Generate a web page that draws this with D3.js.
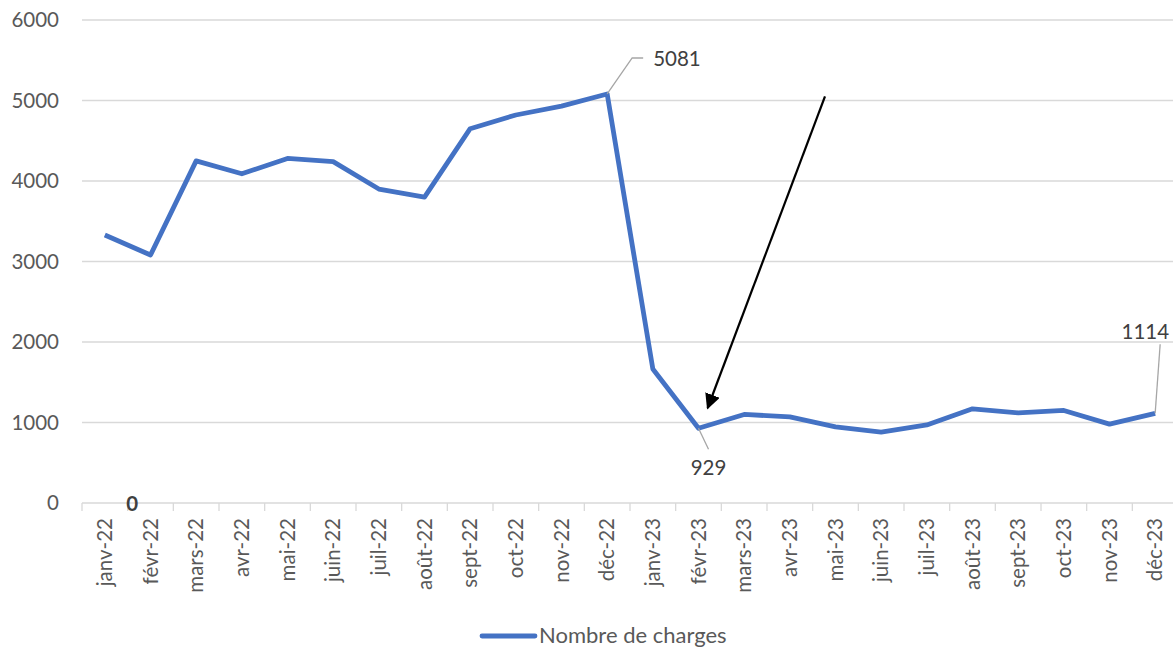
<!DOCTYPE html>
<html>
<head>
<meta charset="utf-8">
<script src="https://cdn.jsdelivr.net/npm/d3@7"></script>
<style>
  body { margin: 0; background: #fff; }
  svg text { font-family: Lato, "Open Sans", sans-serif; }
</style>
</head>
<body>
<svg id="chart" width="1173" height="651"></svg>
<script>
const months = ['janv-22','févr-22','mars-22','avr-22','mai-22','juin-22','juil-22','août-22',
  'sept-22','oct-22','nov-22','déc-22','janv-23','févr-23','mars-23','avr-23','mai-23','juin-23',
  'juil-23','août-23','sept-23','oct-23','nov-23','déc-23'];
const charges = [3330, 3080, 4250, 4090, 4280, 4240, 3900, 3800, 4650, 4820, 4930, 5081,
  1665, 929, 1100, 1070, 945, 880, 970, 1170, 1120, 1150, 980, 1114];
const yTicks = [0, 1000, 2000, 3000, 4000, 5000, 6000];
const seriesName = 'Nombre de charges';
// labelled points
const labelled = [11, 13, 23];

const svg = d3.select('#chart');
const mLeft = 82, mRight = 1178, mTop = 20, mBottom = 503;
const fs = 20.5;

const x = d3.scaleBand().domain(months).range([mLeft, mRight]);
const cx = d => x(d) + x.bandwidth() / 2;
const y = d3.scaleLinear().domain([0, 6000]).range([mBottom, mTop]);

// gridlines
svg.append('g')
  .selectAll('line')
  .data(yTicks)
  .join('line')
  .attr('x1', mLeft).attr('x2', mRight)
  .attr('y1', d => y(d)).attr('y2', d => y(d))
  .attr('stroke', '#d9d9d9').attr('stroke-width', 1.3);

// y labels
svg.append('g')
  .selectAll('text')
  .data(yTicks)
  .join('text')
  .attr('x', 59).attr('y', d => y(d) + 7)
  .attr('text-anchor', 'end')
  .attr('font-size', fs)
  .attr('fill', '#595959')
  .text(d => d);

// x axis
const xAxis = svg.append('g')
  .attr('transform', 'translate(0,' + mBottom + ')')
  .call(d3.axisBottom(x).tickSize(0).tickPadding(0));
xAxis.select('.domain').remove();
xAxis.selectAll('.tick line').remove();
xAxis.selectAll('.tick text')
  .attr('transform', 'rotate(-90)')
  .attr('x', -15).attr('y', 0).attr('dy', '0.35em')
  .attr('text-anchor', 'end')
  .attr('font-size', fs)
  .attr('fill', '#595959')
  .style('font-family', 'Lato, "Open Sans", sans-serif');

svg.append('g')
  .selectAll('line')
  .data(months.concat(['__end']))
  .join('line')
  .attr('x1', (d, i) => mLeft + i * x.bandwidth())
  .attr('x2', (d, i) => mLeft + i * x.bandwidth())
  .attr('y1', mBottom).attr('y2', mBottom + 8)
  .attr('stroke', '#d9d9d9').attr('stroke-width', 1.3);

// stray zero label
svg.append('text')
  .attr('x', mLeft + x.bandwidth() * 1.1).attr('y', y(0) + 8)
  .attr('text-anchor', 'middle')
  .attr('font-size', fs).attr('font-weight', 'bold')
  .attr('fill', '#404040')
  .text('0');

// line
const line = d3.line()
  .x((d, i) => cx(months[i]))
  .y(d => y(d));
svg.append('path')
  .datum(charges)
  .attr('d', line)
  .attr('fill', 'none')
  .attr('stroke', '#4472C4')
  .attr('stroke-width', 4.8)
  .attr('stroke-linejoin', 'round');

// data labels with leader lines
const lab = svg.append('g');
const leader = (pts) => lab.append('path')
  .attr('d', d3.line()(pts))
  .attr('fill', 'none').attr('stroke', '#a6a6a6').attr('stroke-width', 1.3);

{
  const i = labelled[0], px = cx(months[i]), py = y(charges[i]);
  leader([[px, py], [px + 25, py - 36], [px + 36, py - 36]]);
  lab.append('text').attr('x', px + 46).attr('y', py - 28)
    .attr('font-size', fs).attr('fill', '#404040').text(charges[i]);
}
{
  const i = labelled[1], px = cx(months[i]), py = y(charges[i]);
  leader([[px, py], [px + 10, py + 21]]);
  lab.append('text').attr('x', px + 10).attr('y', py + 47)
    .attr('text-anchor', 'middle')
    .attr('font-size', fs).attr('fill', '#404040').text(charges[i]);
}
{
  const i = labelled[2], px = cx(months[i]), py = y(charges[i]);
  leader([[px, py], [px + 5, py - 69]]);
  lab.append('text').attr('x', px + 14).attr('y', py - 74)
    .attr('text-anchor', 'end')
    .attr('font-size', fs).attr('fill', '#404040').text(charges[i]);
}

// arrow annotation (in data space)
const arrowFrom = { i: 15.77, v: 5050 };
const arrowTo = { i: 13.2, v: 1180 };
const ax = i => mLeft + (i + 0.5) * x.bandwidth();
svg.append('defs').append('marker')
  .attr('id', 'ah').attr('viewBox', '0 0 10 10')
  .attr('refX', 9).attr('refY', 5)
  .attr('markerWidth', 7).attr('markerHeight', 7)
  .attr('markerUnits', 'strokeWidth')
  .attr('orient', 'auto')
  .append('path').attr('d', 'M0,0 L10,5 L0,10 Z').attr('fill', '#000');
svg.append('line')
  .attr('x1', ax(arrowFrom.i)).attr('y1', y(arrowFrom.v))
  .attr('x2', ax(arrowTo.i)).attr('y2', y(arrowTo.v))
  .attr('stroke', '#000').attr('stroke-width', 2.2)
  .attr('marker-end', 'url(#ah)');

// legend
const lg = svg.append('g');
lg.append('line')
  .attr('x1', 482).attr('x2', 535).attr('y1', 636).attr('y2', 636)
  .attr('stroke', '#4472C4').attr('stroke-width', 4.8).attr('stroke-linecap', 'round');
lg.append('text')
  .attr('x', 539).attr('y', 643)
  .attr('font-size', 22).attr('fill', '#595959')
  .text(seriesName);
</script>
</body>
</html>
